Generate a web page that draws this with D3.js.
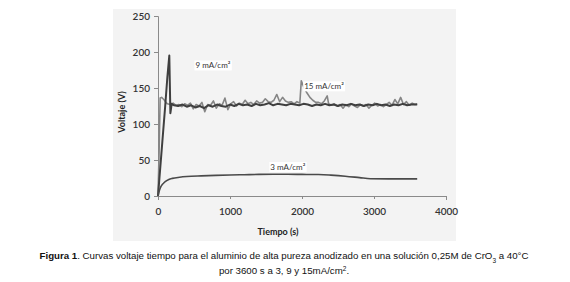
<!DOCTYPE html>
<html><head><meta charset="utf-8">
<script src="https://cdn.jsdelivr.net/npm/d3@7"></script>
<style>body{margin:0;background:#fff}svg{display:block}</style>
</head><body>
<svg id="c" width="570" height="282"></svg>
<script>
const xTicks = [0, 1000, 2000, 3000, 4000];
const yTicks = [0, 50, 100, 150, 200, 250];

const t3 = [0, 20, 40, 60, 80, 100, 150, 200, 300, 400, 600, 800, 1000, 1200, 1400, 1600, 1800, 2000, 2200, 2300, 2400, 2600, 2800, 2950, 3200, 3400, 3600];
const v3 = [0, 8, 13, 16, 18, 20, 23, 24.5, 26, 27, 28, 28.7, 29.2, 29.6, 30, 30.2, 30.2, 30, 29.8, 29.6, 29, 27.5, 25.5, 24, 23.8, 23.8, 23.8];

const t9 = [0, 20, 60, 100, 130, 157, 172, 190, 220, 280, 340, 400, 460, 520, 580, 640, 700, 760, 820, 880, 940, 1000, 1060, 1120, 1180, 1240, 1300, 1360, 1420, 1480, 1540, 1600, 1660, 1720, 1780, 1840, 1900, 1960, 2020, 2080, 2140, 2200, 2260, 2320, 2380, 2440, 2500, 2560, 2620, 2680, 2740, 2800, 2860, 2920, 2980, 3040, 3100, 3160, 3220, 3280, 3340, 3400, 3460, 3520, 3600];
const v9 = [0, 25, 75, 125, 165, 195, 115, 128, 126, 125, 127, 124, 126, 123, 125, 122, 126, 124, 127, 125, 124, 127, 125, 128, 126, 127, 125, 128, 126, 127, 129, 126, 128, 127, 126, 128, 127, 126, 128, 127, 125, 127, 126, 128, 126, 127, 125, 127, 126, 128, 126, 127, 125, 127, 126, 128, 126, 127, 125, 127, 126, 128, 126, 127, 127];

const t15 = [0, 15, 30, 50, 70, 90, 110, 130, 170, 210, 250, 290, 330, 370, 410, 450, 490, 530, 570, 610, 650, 690, 730, 770, 810, 850, 890, 930, 970, 1010, 1050, 1090, 1130, 1170, 1210, 1250, 1290, 1330, 1370, 1410, 1450, 1490, 1530, 1570, 1610, 1650, 1690, 1730, 1770, 1810, 1850, 1890, 1930, 1970, 1990, 2030, 2070, 2110, 2150, 2190, 2230, 2270, 2310, 2350, 2370, 2410, 2450, 2490, 2530, 2570, 2610, 2650, 2690, 2730, 2770, 2810, 2850, 2890, 2930, 2970, 3010, 3050, 3090, 3130, 3170, 3210, 3250, 3290, 3330, 3370, 3410, 3450, 3490, 3530, 3570, 3600];
const v15 = [0, 60, 136, 137, 135, 133, 130, 128, 127, 129, 126, 127, 124, 128, 126, 129, 121, 127, 125, 130, 117, 127, 126, 132, 122, 128, 126, 136, 120, 128, 131, 125, 129, 127, 133, 128, 130, 127, 132, 129, 130, 135, 131, 130, 133, 141, 131, 137, 132, 130, 131, 128, 131, 129, 160, 150, 143, 137, 133, 130, 130, 128, 132, 139, 128, 126, 128, 125, 127, 122, 127, 124, 128, 125, 123, 127, 125, 127, 122, 126, 129, 125, 127, 124, 127, 130, 126, 134, 128, 137, 127, 131, 126, 129, 127, 128];

const labels = [
  {text: "9 mA/cm²", t: 520, v: 181},
  {text: "15 mA/cm²", t: 2030, v: 152},
  {text: "3 mA/cm²", t: 1560, v: 40}
];

const svg = d3.select("#c");
const x = d3.scaleLinear().domain([0, 4000]).range([158, 446]);
const y = d3.scaleLinear().domain([0, 250]).range([196, 16]);

svg.append("rect").attr("x", 113).attr("y", 9).attr("width", 343).attr("height", 232).attr("fill", "#f3f3f3");

const axisFont = "Lato, 'Open Sans', sans-serif";
const yAxis = svg.append("g").attr("transform", "translate(158,0)")
  .call(d3.axisLeft(y).tickValues(yTicks).tickSize(4).tickPadding(4).tickFormat(d3.format("d")));
const xAxis = svg.append("g").attr("transform", "translate(0,196)")
  .call(d3.axisBottom(x).tickValues(xTicks).tickSize(4).tickPadding(8).tickFormat(d3.format("d")));
[yAxis, xAxis].forEach(g => {
  g.select(".domain").attr("stroke", "#8a8a8a");
  g.selectAll(".tick line").attr("stroke", "#8a8a8a");
  g.selectAll(".tick text").attr("fill", "#333").style("font-family", axisFont).style("font-size", "10px").style("font-weight", "600");
});
xAxis.selectAll(".tick line").attr("y1", 0).attr("y2", 3);

const line = d3.line().x(d => x(d[0])).y(d => y(d[1]));
const mk = (ts, vs) => ts.map((t, i) => [t, vs[i]]);

svg.append("path").datum(mk(t15, v15)).attr("d", line).attr("fill", "none").attr("stroke", "#858585").attr("stroke-width", 1.6).attr("stroke-linejoin", "round");
svg.append("path").datum(mk(t9, v9)).attr("d", line).attr("fill", "none").attr("stroke", "#3f3f3f").attr("stroke-width", 2).attr("stroke-linejoin", "round");
svg.append("path").datum(mk(t3, v3)).attr("d", d3.line().x(d => x(d[0])).y(d => y(d[1])).curve(d3.curveMonotoneX)).attr("fill", "none").attr("stroke", "#4a4a4a").attr("stroke-width", 1.6);

labels.forEach(l => {
  const g = svg.append("g");
  const tx = g.append("text").attr("x", x(l.t)).attr("y", y(l.v)).attr("dy", "0.35em")
    .style("font-family", axisFont).style("font-size", "8px").attr("fill", "#333").text(l.text);
  const bb = tx.node().getBBox();
  g.insert("rect", "text").attr("x", bb.x - 1).attr("y", bb.y).attr("width", bb.width + 2).attr("height", bb.height).attr("fill", "#fff");
});

svg.append("text").attr("x", 278).attr("y", 235).attr("text-anchor", "middle")
  .style("font-family", axisFont).style("font-size", "9px").style("font-weight", "700").attr("fill", "#222").text("Tiempo (s)");
svg.append("text").attr("transform", "translate(125,112) rotate(-90)").attr("text-anchor", "middle")
  .style("font-family", axisFont).style("font-size", "9px").style("font-weight", "700").attr("fill", "#222").text("Voltaje (V)");

const cap = "'Liberation Sans', Arial, sans-serif";
const c1 = svg.append("text").attr("x", 284).attr("y", 259).attr("text-anchor", "middle")
  .style("font-family", cap).style("font-size", "9.7px").attr("fill", "#111");
c1.append("tspan").style("font-weight", "700").text("Figura 1");
c1.append("tspan").text(". Curvas voltaje tiempo para el aluminio de alta pureza anodizado en una solución 0,25M de CrO");
c1.append("tspan").attr("baseline-shift", "sub").style("font-size", "6.5px").text("3");
c1.append("tspan").text(" a 40°C");
const c2 = svg.append("text").attr("x", 284).attr("y", 274).attr("text-anchor", "middle")
  .style("font-family", cap).style("font-size", "9.7px").attr("fill", "#111");
c2.append("tspan").text("por 3600 s a 3, 9 y 15mA/cm");
c2.append("tspan").attr("baseline-shift", "super").style("font-size", "6.5px").text("2");
c2.append("tspan").text(".");
</script>
</body></html>
